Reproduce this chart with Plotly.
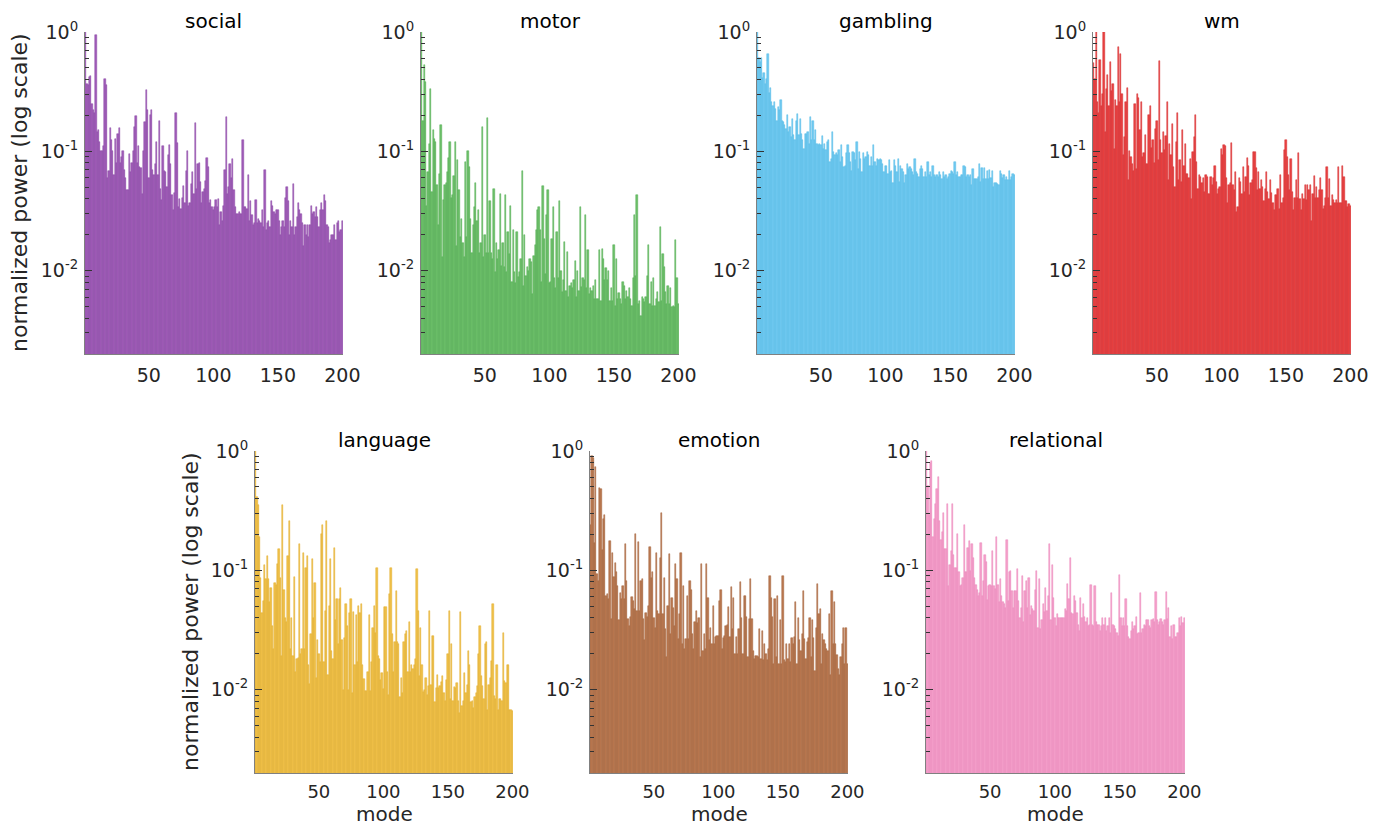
import math
import plotly.graph_objects as go

modes = list(range(1, 201))
tick_modes = [50, 100, 150, 200]
y_ticks = [0.01, 0.1, 1]
y_ticktext = ["10<sup>-2</sup>", "10<sup>-1</sup>", "10<sup>0</sup>"]
tasks = ["social", "motor", "gambling", "wm", "language", "emotion", "relational"]

social = [
    1.0, 0.37, 0.36, 0.42, 0.43, 0.25, 0.22, 0.21, 0.95, 0.145,
    0.15, 0.12, 0.1, 0.1, 0.11, 0.4, 0.36, 0.06, 0.068, 0.157,
    0.125, 0.1, 0.063, 0.128, 0.08, 0.14, 0.157, 0.08, 0.09, 0.1,
    0.07, 0.06, 0.047, 0.047, 0.095, 0.067, 0.08, 0.1, 0.16, 0.198,
    0.08, 0.11, 0.074, 0.072, 0.044, 0.1, 0.176, 0.325, 0.22, 0.06,
    0.2, 0.22, 0.07, 0.063, 0.078, 0.12, 0.063, 0.18, 0.048, 0.039,
    0.11, 0.069, 0.067, 0.05, 0.094, 0.114, 0.078, 0.043, 0.032, 0.045,
    0.21, 0.117, 0.034, 0.04, 0.033, 0.041, 0.051, 0.037, 0.069, 0.1,
    0.035, 0.037, 0.053, 0.067, 0.044, 0.173, 0.048, 0.078, 0.08, 0.055,
    0.037, 0.046, 0.048, 0.056, 0.088, 0.074, 0.037, 0.039, 0.034, 0.032,
    0.034, 0.039, 0.034, 0.04, 0.024, 0.031, 0.026, 0.035, 0.07, 0.194,
    0.044, 0.05, 0.078, 0.06, 0.087, 0.047, 0.034, 0.03, 0.03, 0.031,
    0.03, 0.03, 0.124, 0.034, 0.034, 0.033, 0.063, 0.026, 0.038, 0.029,
    0.024, 0.025, 0.039, 0.025, 0.027, 0.026, 0.025, 0.032, 0.023, 0.07,
    0.022, 0.025, 0.026, 0.023, 0.038, 0.035, 0.031, 0.03, 0.032, 0.032,
    0.026, 0.02, 0.023, 0.026, 0.023, 0.041, 0.05, 0.038, 0.02, 0.026,
    0.023, 0.053, 0.02, 0.023, 0.028, 0.037, 0.032, 0.03, 0.025, 0.016,
    0.024, 0.02, 0.024, 0.019, 0.024, 0.035, 0.03, 0.031, 0.028, 0.034,
    0.028, 0.023, 0.032, 0.037, 0.032, 0.043, 0.038, 0.024, 0.023, 0.017,
    0.018, 0.02, 0.02, 0.024, 0.018, 0.025, 0.026, 0.021, 0.022, 0.026,
]

motor = [
    1.0, 0.18, 0.53, 0.38, 0.035, 0.067, 0.116, 0.33, 0.046, 0.15,
    0.127, 0.12, 0.052, 0.024, 0.065, 0.165, 0.013, 0.039, 0.052, 0.054,
    0.067, 0.088, 0.12, 0.041, 0.043, 0.062, 0.12, 0.016, 0.085, 0.047,
    0.019, 0.027, 0.017, 0.013, 0.082, 0.019, 0.1, 0.074, 0.027, 0.014,
    0.024, 0.034, 0.054, 0.026, 0.032, 0.014, 0.017, 0.16, 0.013, 0.02,
    0.014, 0.19, 0.014, 0.038, 0.014, 0.0125, 0.048, 0.0097, 0.017, 0.0125,
    0.015, 0.044, 0.011, 0.017, 0.0107, 0.043, 0.0097, 0.021, 0.0138, 0.035,
    0.008, 0.022, 0.0097, 0.0078, 0.021, 0.0089, 0.0097, 0.0125, 0.068, 0.0075,
    0.02, 0.009, 0.0107, 0.01, 0.0125, 0.0117, 0.0064, 0.0133, 0.0163, 0.022,
    0.032, 0.034, 0.022, 0.008, 0.051, 0.0185, 0.0094, 0.029, 0.047, 0.0078,
    0.008, 0.0185, 0.034, 0.0086, 0.0071, 0.021, 0.0086, 0.038, 0.01, 0.0066,
    0.0083, 0.0173, 0.0068, 0.0142, 0.006, 0.0075, 0.0078, 0.0071, 0.0083, 0.012,
    0.006, 0.01, 0.0068, 0.034, 0.0073, 0.0086, 0.0083, 0.029, 0.0071, 0.015,
    0.0064, 0.0071, 0.0068, 0.0075, 0.0058, 0.0083, 0.0058, 0.0058, 0.015, 0.0056,
    0.0152, 0.0125, 0.0083, 0.0106, 0.0083, 0.01, 0.0056, 0.0071, 0.0056, 0.0163,
    0.0051, 0.0125, 0.0058, 0.0065, 0.0058, 0.0053, 0.008, 0.0075, 0.0058, 0.0068,
    0.006, 0.0071, 0.0058, 0.0051, 0.0086, 0.029, 0.0091, 0.043, 0.0053, 0.0056,
    0.0042, 0.006, 0.0058, 0.0055, 0.006, 0.0091, 0.0163, 0.0053, 0.008, 0.0051,
    0.0086, 0.0051, 0.0058, 0.0066, 0.0055, 0.023, 0.0056, 0.0138, 0.0107, 0.0066,
    0.0053, 0.0075, 0.0053, 0.0071, 0.005, 0.0051, 0.005, 0.018, 0.0086, 0.0052,
]

gambling = [
    1.0, 0.6, 0.56, 0.6, 0.41, 0.45, 0.37, 0.4, 0.66, 0.31,
    0.34, 0.26, 0.24, 0.26, 0.228, 0.18, 0.236, 0.22, 0.27, 0.18,
    0.176, 0.165, 0.155, 0.2, 0.145, 0.16, 0.132, 0.188, 0.136, 0.124,
    0.18, 0.207, 0.136, 0.188, 0.14, 0.124, 0.105, 0.14, 0.14, 0.145,
    0.116, 0.194, 0.124, 0.18, 0.124, 0.15, 0.116, 0.112, 0.116, 0.112,
    0.134, 0.105, 0.116, 0.102, 0.12, 0.124, 0.082, 0.087, 0.145, 0.099,
    0.093, 0.096, 0.093, 0.102, 0.082, 0.112, 0.09, 0.074, 0.076, 0.096,
    0.112, 0.096, 0.082, 0.069, 0.099, 0.096, 0.084, 0.12, 0.071, 0.099,
    0.087, 0.067, 0.096, 0.087, 0.09, 0.099, 0.093, 0.076, 0.09, 0.076,
    0.112, 0.082, 0.076, 0.087, 0.084, 0.087, 0.084, 0.079, 0.067, 0.076,
    0.076, 0.065, 0.084, 0.067, 0.069, 0.054, 0.084, 0.076, 0.067, 0.087,
    0.055, 0.076, 0.071, 0.067, 0.054, 0.063, 0.079, 0.071, 0.074, 0.071,
    0.067, 0.063, 0.087, 0.067, 0.065, 0.061, 0.071, 0.076, 0.071, 0.061,
    0.067, 0.061, 0.082, 0.063, 0.067, 0.061, 0.076, 0.063, 0.061, 0.063,
    0.061, 0.067, 0.063, 0.059, 0.067, 0.061, 0.063, 0.059, 0.061, 0.065,
    0.069, 0.067, 0.064, 0.082, 0.063, 0.067, 0.061, 0.061, 0.063, 0.063,
    0.076, 0.074, 0.061, 0.063, 0.061, 0.063, 0.052, 0.071, 0.059, 0.059,
    0.059, 0.061, 0.079, 0.055, 0.073, 0.059, 0.072, 0.059, 0.069, 0.059,
    0.07, 0.06, 0.069, 0.05, 0.054, 0.054, 0.053, 0.052, 0.069, 0.064,
    0.06, 0.063, 0.058, 0.061, 0.057, 0.069, 0.058, 0.061, 0.065, 0.063,
]

wm = [
    0.55, 0.4, 1.0, 0.26, 0.21, 0.58, 0.24, 0.3, 1.0, 0.145,
    0.33, 0.44, 0.24, 0.56, 0.32, 0.37, 0.105, 0.27, 0.24, 0.75,
    0.26, 0.66, 0.3, 0.093, 0.132, 0.26, 0.34, 0.057, 0.1, 0.09,
    0.079, 0.069, 0.25, 0.071, 0.3, 0.28, 0.15, 0.26, 0.09, 0.096,
    0.136, 0.079, 0.079, 0.2, 0.24, 0.107, 0.124, 0.08, 0.155, 0.18,
    0.085, 0.57, 0.124, 0.096, 0.145, 0.102, 0.134, 0.26, 0.057, 0.116,
    0.093, 0.17, 0.074, 0.05, 0.12, 0.21, 0.057, 0.084, 0.055, 0.15,
    0.076, 0.116, 0.065, 0.065, 0.06, 0.087, 0.04, 0.099, 0.132, 0.2,
    0.082, 0.048, 0.063, 0.061, 0.054, 0.06, 0.046, 0.063, 0.061, 0.044,
    0.044, 0.061, 0.052, 0.06, 0.075, 0.055, 0.044, 0.048, 0.05, 0.105,
    0.093, 0.114, 0.11, 0.06, 0.037, 0.052, 0.054, 0.118, 0.052, 0.047,
    0.067, 0.031, 0.034, 0.06, 0.055, 0.044, 0.074, 0.046, 0.061, 0.088,
    0.076, 0.043, 0.054, 0.057, 0.099, 0.099, 0.072, 0.047, 0.067, 0.048,
    0.057, 0.05, 0.038, 0.048, 0.067, 0.046, 0.04, 0.058, 0.045, 0.037,
    0.032, 0.043, 0.043, 0.048, 0.033, 0.063, 0.037, 0.041, 0.102, 0.124,
    0.09, 0.063, 0.047, 0.087, 0.046, 0.032, 0.041, 0.057, 0.041, 0.097,
    0.04, 0.032, 0.044, 0.04, 0.052, 0.039, 0.052, 0.047, 0.052, 0.026,
    0.044, 0.062, 0.041, 0.05, 0.041, 0.047, 0.06, 0.047, 0.033, 0.035,
    0.041, 0.074, 0.041, 0.059, 0.035, 0.043, 0.039, 0.037, 0.039, 0.037,
    0.074, 0.037, 0.037, 0.075, 0.061, 0.038, 0.038, 0.034, 0.036, 0.035,
]

language = [
    1.0, 0.41, 0.35, 0.19, 0.087, 0.044, 0.055, 0.11, 0.084, 0.132,
    0.084, 0.054, 0.071, 0.034, 0.022, 0.079, 0.076, 0.112, 0.15, 0.087,
    0.019, 0.35, 0.068, 0.04, 0.037, 0.132, 0.26, 0.022, 0.04, 0.019,
    0.088, 0.014, 0.018, 0.0185, 0.165, 0.02, 0.022, 0.14, 0.022, 0.105,
    0.132, 0.016, 0.0112, 0.029, 0.124, 0.04, 0.079, 0.0125, 0.026, 0.02,
    0.017, 0.2, 0.24, 0.017, 0.046, 0.26, 0.0133, 0.05, 0.124, 0.021,
    0.018, 0.153, 0.038, 0.058, 0.024, 0.058, 0.071, 0.026, 0.01, 0.027,
    0.052, 0.034, 0.01, 0.044, 0.058, 0.0094, 0.045, 0.016, 0.042, 0.017,
    0.05, 0.044, 0.052, 0.016, 0.0123, 0.0097, 0.0097, 0.014, 0.042, 0.0097,
    0.017, 0.033, 0.05, 0.03, 0.104, 0.019, 0.018, 0.012, 0.0137, 0.0102,
    0.049, 0.049, 0.014, 0.0091, 0.063, 0.105, 0.029, 0.014, 0.025, 0.067,
    0.025, 0.024, 0.0086, 0.0125, 0.0094, 0.025, 0.029, 0.031, 0.014, 0.037,
    0.014, 0.016, 0.015, 0.016, 0.018, 0.102, 0.046, 0.013, 0.033, 0.016,
    0.0096, 0.01, 0.0125, 0.0091, 0.0107, 0.046, 0.011, 0.028, 0.028, 0.0078,
    0.0104, 0.0133, 0.0104, 0.0107, 0.0115, 0.013, 0.0094, 0.008, 0.012, 0.02,
    0.046, 0.0083, 0.024, 0.0081, 0.0105, 0.0104, 0.0114, 0.008, 0.0064, 0.045,
    0.0073, 0.008, 0.0137, 0.0094, 0.011, 0.021, 0.016, 0.0078, 0.008, 0.007,
    0.0086, 0.0094, 0.0107, 0.02, 0.034, 0.013, 0.0107, 0.0083, 0.024, 0.025,
    0.0068, 0.011, 0.0125, 0.0173, 0.052, 0.0088, 0.0083, 0.016, 0.0067, 0.0083,
    0.0083, 0.0081, 0.03, 0.0117, 0.0114, 0.016, 0.016, 0.0068, 0.0067, 0.0066,
]

emotion = [
    0.24, 0.91, 0.88, 0.17, 0.73, 0.093, 0.082, 0.49, 0.48, 0.147,
    0.27, 0.29, 0.061, 0.063, 0.058, 0.176, 0.039, 0.14, 0.088, 0.115,
    0.096, 0.074, 0.038, 0.065, 0.057, 0.074, 0.057, 0.165, 0.082, 0.039,
    0.034, 0.041, 0.06, 0.055, 0.047, 0.2, 0.046, 0.174, 0.046, 0.082,
    0.084, 0.039, 0.026, 0.044, 0.041, 0.05, 0.157, 0.087, 0.096, 0.04,
    0.033, 0.14, 0.046, 0.043, 0.126, 0.3, 0.043, 0.087, 0.032, 0.0187,
    0.05, 0.136, 0.029, 0.059, 0.048, 0.034, 0.114, 0.084, 0.0265, 0.043,
    0.14, 0.024, 0.074, 0.022, 0.0265, 0.061, 0.0265, 0.082, 0.068, 0.029,
    0.022, 0.037, 0.046, 0.036, 0.04, 0.0187, 0.114, 0.021, 0.029, 0.022,
    0.114, 0.059, 0.026, 0.033, 0.024, 0.05, 0.024, 0.0275, 0.028, 0.028,
    0.055, 0.068, 0.022, 0.027, 0.028, 0.034, 0.035, 0.049, 0.0275, 0.072,
    0.032, 0.059, 0.02, 0.0275, 0.02, 0.032, 0.08, 0.04, 0.02, 0.061,
    0.061, 0.041, 0.0187, 0.039, 0.084, 0.039, 0.021, 0.018, 0.019, 0.019,
    0.0187, 0.032, 0.018, 0.031, 0.0177, 0.024, 0.02, 0.0177, 0.022, 0.09,
    0.059, 0.041, 0.0163, 0.058, 0.0187, 0.061, 0.0163, 0.038, 0.0163, 0.09,
    0.0177, 0.017, 0.024, 0.018, 0.024, 0.017, 0.027, 0.024, 0.0275, 0.054,
    0.0164, 0.04, 0.026, 0.021, 0.029, 0.067, 0.0265, 0.018, 0.025, 0.027,
    0.04, 0.0187, 0.038, 0.027, 0.0142, 0.033, 0.077, 0.043, 0.047, 0.0164,
    0.029, 0.026, 0.024, 0.022, 0.021, 0.043, 0.0133, 0.067, 0.024, 0.054,
    0.024, 0.0196, 0.015, 0.0133, 0.0187, 0.024, 0.033, 0.0163, 0.033, 0.0163,
]

relational = [
    1.0, 0.51, 0.29, 0.8, 0.82, 0.19, 0.27, 0.36, 0.48, 0.6,
    0.26, 0.18, 0.21, 0.3, 0.15, 0.15, 0.36, 0.074, 0.11, 0.145,
    0.36, 0.134, 0.105, 0.104, 0.2, 0.096, 0.074, 0.076, 0.087, 0.24,
    0.096, 0.096, 0.153, 0.176, 0.099, 0.165, 0.127, 0.087, 0.076, 0.069,
    0.061, 0.065, 0.17, 0.061, 0.082, 0.134, 0.118, 0.056, 0.074, 0.076,
    0.074, 0.145, 0.074, 0.07, 0.19, 0.076, 0.054, 0.084, 0.061, 0.054,
    0.052, 0.048, 0.18, 0.055, 0.096, 0.099, 0.067, 0.048, 0.067, 0.067,
    0.102, 0.055, 0.04, 0.048, 0.09, 0.037, 0.067, 0.082, 0.048, 0.087,
    0.042, 0.05, 0.047, 0.046, 0.069, 0.099, 0.033, 0.084, 0.032, 0.038,
    0.052, 0.045, 0.071, 0.046, 0.061, 0.165, 0.038, 0.11, 0.059, 0.04,
    0.034, 0.043, 0.04, 0.04, 0.04, 0.04, 0.04, 0.047, 0.046, 0.077,
    0.058, 0.126, 0.044, 0.043, 0.061, 0.055, 0.044, 0.035, 0.031, 0.059,
    0.04, 0.052, 0.041, 0.037, 0.04, 0.034, 0.035, 0.076, 0.035, 0.034,
    0.074, 0.037, 0.035, 0.035, 0.031, 0.034, 0.04, 0.035, 0.04, 0.031,
    0.034, 0.04, 0.03, 0.065, 0.035, 0.034, 0.032, 0.03, 0.028, 0.092,
    0.04, 0.034, 0.04, 0.034, 0.058, 0.034, 0.0275, 0.0265, 0.031, 0.037,
    0.032, 0.034, 0.041, 0.029, 0.03, 0.065, 0.03, 0.032, 0.035, 0.034,
    0.038, 0.038, 0.034, 0.033, 0.038, 0.039, 0.037, 0.066, 0.038, 0.035,
    0.037, 0.039, 0.037, 0.035, 0.038, 0.066, 0.039, 0.048, 0.0275, 0.034,
    0.0265, 0.035, 0.0275, 0.0275, 0.03, 0.04, 0.034, 0.041, 0.036, 0.04,
]

series = [social, motor, gambling, wm, language, emotion, relational]
face_colors = ["#a05cb9", "#6dc06a", "#70caf0", "#ea4242", "#f0c24a", "#bb7850", "#f59fcb"]
edge_colors = ["#8a46a4", "#52ad52", "#55bbe6", "#d42c2e", "#e0ac2c", "#a1603a", "#eb86bb"]

# panel boxes in page pixels: (left, right, top, bottom)
boxes = [
    (85, 343, 32, 354), (421, 679, 32, 354), (757, 1015, 32, 354), (1093, 1351, 32, 354),
    (255, 513, 451, 773), (590, 848, 451, 773), (926, 1185, 451, 773),
]

# the page body has an 8px margin; keep the figure inside the window
OFF = 8
W, H = 1387 - 2 * OFF, 835 - 2 * OFF


def px(x):
    return (x - OFF) / W


def py(y):
    return 1 - (y - OFF) / H


FONT = "DejaVu Sans"
TXT = "#262626"

minor_vals = [m * d for d in (0.001, 0.01, 0.1) for m in range(2, 10)]

fig = go.Figure()
layout = dict(
    template="none",
    width=W, height=H, margin=dict(l=0, r=0, t=0, b=0, pad=0, autoexpand=False),
    paper_bgcolor="white", plot_bgcolor="white",
    bargap=0, showlegend=False,
    font=dict(family=FONT, color=TXT, size=19),
)
annotations = []

for i, (name, vals, fc, ec, box) in enumerate(zip(tasks, series, face_colors, edge_colors, boxes)):
    k = "" if i == 0 else str(i + 1)
    bottom_row = i >= 4
    fig.add_trace(go.Bar(
        x=modes, y=vals,
        marker=dict(color=fc, line=dict(color=ec, width=0.5)),
        xaxis="x" + k, yaxis="y" + k, showlegend=False,
    ))
    l, r, t, b = box
    layout["xaxis" + k] = dict(
        domain=[px(l), px(r)], anchor="y" + k, automargin=False,
        range=[0.5, 200.5], tickmode="array", tickvals=tick_modes,
        ticks="", showline=True, linecolor="#808080", linewidth=1,
        showgrid=False, zeroline=False,
        tickfont=dict(size=18 if bottom_row else 19, color=TXT),
        ticklabelstandoff=2 if bottom_row else 4,
    )
    layout["yaxis" + k] = dict(
        domain=[py(b), py(t)], anchor="x" + k, automargin=False,
        type="log", range=[math.log10(0.002), 0],
        tickmode="array", tickvals=y_ticks, ticktext=y_ticktext,
        ticks="inside", ticklen=7, tickcolor="#333333", tickwidth=1,
        showline=True, linecolor="#808080", linewidth=1,
        showgrid=False, zeroline=False, tickfont=dict(size=19, color=TXT),
        ticklabelstandoff=2,
        minor=dict(tickmode="array", tickvals=minor_vals, ticks="inside",
                   ticklen=4, tickcolor="#333333", tickwidth=1, showgrid=False),
    )
    annotations.append(dict(
        text=name, x=px((l + r) / 2), y=py(t - 11),
        xref="paper", yref="paper", showarrow=False,
        font=dict(size=20, color="black", family=FONT),
        xanchor="center", yanchor="middle",
    ))

# y-axis labels
for (l, r, t, b) in (boxes[0], boxes[4]):
    annotations.append(dict(
        text="normalized power (log scale)", textangle=-90,
        x=px(l - 65), y=py((t + b) / 2), xref="paper", yref="paper",
        showarrow=False, font=dict(size=22, color=TXT, family=FONT),
        xanchor="center", yanchor="middle",
    ))
# x-axis labels, sitting on the bottom edge of the figure
for (l, r, t, b) in boxes[4:]:
    annotations.append(dict(
        text="mode", x=px((l + r) / 2), y=0,
        xref="paper", yref="paper", showarrow=False,
        font=dict(size=20, color=TXT, family=FONT),
        xanchor="center", yanchor="bottom", borderpad=0,
    ))

layout["annotations"] = annotations
fig.update_layout(**layout)
fig.write_html("out.html")
